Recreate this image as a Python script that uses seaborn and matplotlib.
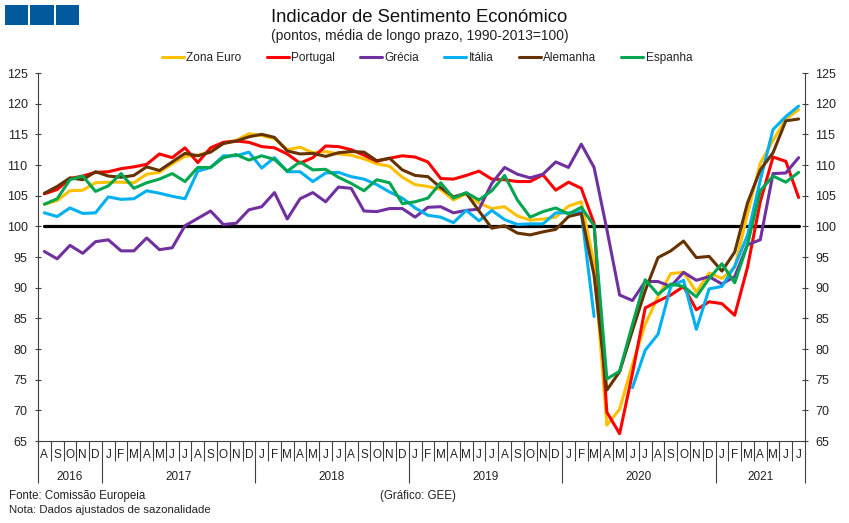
import numpy as np
import pandas as pd
import seaborn as sns
import matplotlib.pyplot as plt
from matplotlib.patches import Rectangle
from matplotlib.transforms import blended_transform_factory

# monthly values, Aug 2016 to Jul 2021
zona_euro = [103.6, 104.2, 105.8, 105.9, 107.1, 107.2, 107.2, 107.1, 108.5, 108.8, 110.2, 111.4,
             111.6, 112.2, 113.6, 114.0, 115.1, 114.8, 114.3, 112.5, 112.9, 112.0, 112.2, 111.8,
             111.6, 111.0, 110.2, 109.8, 108.0, 106.8, 106.5, 106.0, 104.3, 105.3, 103.8, 102.9,
             103.2, 101.7, 101.0, 101.2, 101.5, 103.3, 104.0, 94.0, 67.6, 70.2, 77.5, 84.0,
             88.5, 92.3, 92.5, 89.3, 92.4, 91.5, 93.3, 102.0, 110.3, 114.0, 117.5, 119.0]
portugal = [105.3, 106.0, 107.8, 108.2, 108.8, 108.9, 109.4, 109.7, 110.1, 111.8, 111.2, 112.8,
            110.4, 112.8, 113.7, 113.9, 113.7, 113.0, 112.8, 111.8, 110.3, 111.2, 113.1, 113.0,
            112.5, 111.6, 110.6, 111.1, 111.5, 111.3, 110.5, 107.8, 107.7, 108.3, 109.0, 107.7,
            107.6, 107.3, 107.3, 108.4, 105.9, 107.2, 106.2, 100.5, 69.7, 66.2, 76.0, 86.7,
            87.8, 88.8, 90.2, 86.4, 87.7, 87.4, 85.5, 93.3, 104.0, 111.3, 110.6, 104.7]
grecia = [95.9, 94.7, 96.9, 95.6, 97.5, 97.8, 96.0, 96.0, 98.1, 96.2, 96.5, 100.1,
          101.3, 102.5, 100.3, 100.5, 102.7, 103.2, 105.5, 101.2, 104.5, 105.5, 104.0, 106.4,
          106.2, 102.5, 102.4, 102.9, 102.9, 101.5, 103.1, 103.2, 102.2, 102.6, 102.8, 107.0,
          109.6, 108.5, 107.9, 108.5, 110.5, 109.6, 113.4, 109.6, 99.5, 88.8, 87.9, 91.0,
          91.0, 90.2, 92.5, 91.2, 91.8, 90.6, 91.8, 97.0, 97.8, 108.6, 108.7, 111.2]
italia = [102.2, 101.6, 103.0, 102.1, 102.2, 104.8, 104.4, 104.5, 105.8, 105.4, 104.9, 104.5,
          109.0, 109.6, 111.5, 111.5, 112.1, 109.5, 111.2, 108.9, 108.9, 107.3, 108.7, 108.8,
          108.1, 107.7, 106.8, 105.6, 104.6, 103.0, 101.8, 101.5, 100.6, 102.6, 100.9, 102.6,
          101.1, 100.3, 100.4, 100.4, 102.2, 102.2, 102.4, 85.3, np.nan, np.nan, 73.7, 79.8,
          82.4, 90.2, 91.2, 83.2, 89.8, 90.2, 93.5, 98.5, 107.5, 115.8, 117.9, 119.6]
alemanha = [105.4, 106.5, 107.9, 107.6, 108.9, 108.2, 108.0, 108.3, 109.7, 109.1, 110.5, 111.9,
            111.5, 112.1, 113.5, 113.9, 114.6, 115.0, 114.5, 112.3, 111.8, 111.9, 111.4, 112.0,
            112.2, 112.1, 110.7, 111.1, 109.2, 108.3, 108.1, 106.3, 104.8, 105.4, 102.5, 99.7,
            100.1, 98.9, 98.6, 99.1, 99.5, 101.6, 102.1, 92.0, 73.3, 76.3, 83.0, 89.5,
            94.9, 96.0, 97.6, 94.9, 95.1, 92.7, 95.8, 103.8, 109.2, 112.0, 117.2, 117.5]
espanha = [103.6, 104.5, 107.6, 108.2, 105.7, 106.6, 108.6, 106.2, 107.1, 107.7, 108.6, 107.3,
           109.6, 109.6, 111.2, 111.7, 110.8, 111.5, 110.9, 109.0, 110.5, 109.2, 109.3, 108.0,
           107.0, 105.8, 107.6, 107.1, 103.7, 104.0, 104.6, 107.1, 104.6, 105.5, 104.3, 105.8,
           108.3, 104.3, 101.5, 102.4, 103.0, 102.0, 103.1, 100.1, 75.1, 76.4, 84.0, 91.3,
           88.9, 90.6, 90.2, 88.5, 91.5, 93.9, 90.8, 97.0, 105.8, 108.2, 107.2, 108.8]

series_names = ['Zona Euro', 'Portugal', 'Grécia', 'Itália', 'Alemanha', 'Espanha']
series_values = [zona_euro, portugal, grecia, italia, alemanha, espanha]
colors = ['#FFC000', '#FF0000', '#7030A0', '#00B0F0', '#663300', '#00A650']

month_labels = list('ASOND') + list('JFMAMJJASOND') * 4 + list('JFMAMJJ')
year_labels = ['2016', '2017', '2018', '2019', '2020', '2021']
year_sizes = [5, 12, 12, 12, 12, 7]

yticks = list(range(65, 130, 5))

# long table, seg splits a series where it has a hole (Itália in 2020)
frames = []
for name, values in zip(series_names, series_values):
    d = pd.DataFrame({'mes': range(len(values)), 'valor': values, 'serie': name})
    d['seg'] = d['valor'].isna().cumsum()
    frames.append(d.dropna())
df = pd.concat(frames, ignore_index=True)

sns.set_theme(style='ticks')
plt.rcParams['font.family'] = ['Liberation Sans', 'DejaVu Sans']

dark = '#404040'
W, H = 849, 523

fig = plt.figure(figsize=(W / 100, H / 100), dpi=100)
ax = fig.add_axes([38 / W, 1 - 441 / H, 767 / W, 368 / H])

ax.plot(range(60), [100] * 60, color='black', lw=2.3, zorder=1.5)

sns.lineplot(data=df, x='mes', y='valor', hue='serie', hue_order=series_names, palette=colors,
             units='seg', estimator=None, lw=2.2, ax=ax)

ax.set_xlim(-0.5, 59.5)
ax.set_ylim(65, 125)
ax.set_xlabel('')
ax.set_ylabel('')
ax.set_yticks(yticks)
ax.tick_params(axis='y', which='major', left=True, right=True, labelleft=True, labelright=True,
               direction='inout', length=4, width=0.8, color=dark, labelsize=9, labelcolor='#222222', pad=5.5)

# month and year separators below the axis
edges = np.cumsum([0] + year_sizes) - 0.5
ax.set_xticks(edges)
ax.set_xticklabels([])
ax.set_xticks(np.arange(60) - 0.5, minor=True)
ax.tick_params(axis='x', which='major', length=30, width=0.8, color=dark)
ax.tick_params(axis='x', which='minor', length=14.5, width=0.8, color=dark)

for spine in ['left', 'right', 'bottom']:
    ax.spines[spine].set_color(dark)
    ax.spines[spine].set_linewidth(0.8)
ax.spines['top'].set_visible(False)

trans = blended_transform_factory(ax.transData, ax.transAxes)
for i, m in enumerate(month_labels):
    ax.text(i, -14.5 / 368, m, transform=trans, ha='center', va='center', fontsize=8.5, color='#222222')
for j, y in enumerate(year_labels):
    ax.text((edges[j] + edges[j + 1]) / 2, -35.5 / 368, y, transform=trans, ha='center', va='center',
            fontsize=8.5, color='#222222')

handles, labels = ax.get_legend_handles_labels()
ax.legend(handles, labels, ncol=6, frameon=False, fontsize=8.5, loc='center',
          bbox_to_anchor=(427 / W, 1 - 58 / H), bbox_transform=fig.transFigure,
          handlelength=1.85, handletextpad=0.2, columnspacing=2.15, labelcolor='#222222')

fig.text(419.5 / W, 1 - 18 / H, 'Indicador de Sentimento Económico', ha='center', va='center',
         fontsize=13.3, color='#111111')
fig.text(419.5 / W, 1 - 36 / H, '(pontos, média de longo prazo, 1990-2013=100)', ha='center', va='center',
         fontsize=10, color='#222222')

fig.text(9 / W, 1 - 496 / H, 'Fonte: Comissão Europeia', ha='left', va='center', fontsize=8.3, color='#222222')
fig.text(9 / W, 1 - 510 / H, 'Nota: Dados ajustados de sazonalidade', ha='left', va='center', fontsize=8.2, color='#222222')
fig.text(380 / W, 1 - 496 / H, '(Gráfico: GEE)', ha='left', va='center', fontsize=8.3, color='#222222')

# three blue blocks top left
for x0 in [4.5, 30, 55.5]:
    fig.add_artist(Rectangle((x0 / W, 1 - 25 / H), 23.5 / W, 20 / H, transform=fig.transFigure,
                             facecolor='#005A9C', edgecolor='none'))

fig.savefig('out.png', dpi=100)
